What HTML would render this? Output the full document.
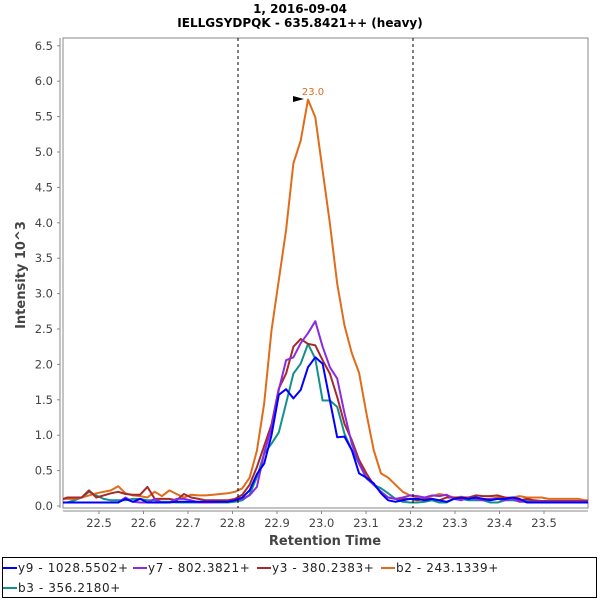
<!DOCTYPE html>
<html><head><meta charset="utf-8"><style>
body{margin:0;background:#fff;width:600px;height:600px;overflow:hidden;font-family:"DejaVu Sans","Liberation Sans",sans-serif}
svg{display:block}
</style></head><body>
<svg id="chart" width="600" height="600" xmlns="http://www.w3.org/2000/svg" font-family="DejaVu Sans, Liberation Sans, sans-serif">
<text x="300" y="13" text-anchor="middle" font-size="12" font-weight="bold" fill="#000">1, 2016-09-04</text>
<text x="300" y="27" text-anchor="middle" font-size="12" font-weight="bold" fill="#000">IELLGSYDPQK - 635.8421++ (heavy)</text>
<rect x="63" y="38" width="525" height="470" fill="#fff" stroke="#888" stroke-width="1"/>
<g id="axes"></g>
<g id="series" clip-path="url(#clip)"></g>
<defs><clipPath id="clip"><rect x="63" y="38" width="525" height="470"/></clipPath></defs>
<line x1="238" y1="38" x2="238" y2="508" stroke="#000" stroke-dasharray="3,3"/>
<line x1="413" y1="38" x2="413" y2="508" stroke="#000" stroke-dasharray="3,3"/>
<polygon points="293,96 304,99 293,102" fill="#000"/>
<text x="313" y="95" text-anchor="middle" font-size="10" fill="#e06c1a">23.0</text>
<text x="325" y="545" text-anchor="middle" font-size="13" font-weight="bold" fill="#444">Retention Time</text>
<text transform="translate(25,275) rotate(-90)" text-anchor="middle" font-size="13" font-weight="bold" fill="#444">Intensity 10^3</text>
<rect x="2.5" y="557.5" width="594" height="40" fill="#fff" stroke="#000"/>
<g id="legend"></g>
</svg>
<script>
const seriesNames=["y9 - 1028.5502+","y7 - 802.3821+","y3 - 380.2383+","b2 - 243.1339+","b3 - 356.2180+"];
const seriesColors=["#0000ff","#8a2be2","#a52a2a","#e06c1a","#14908c"];
const timeStart=22.412;
const timeStep=0.0164;
const y9=[0.05,0.05,0.05,0.05,0.05,0.05,0.05,0.05,0.05,0.1,0.06,0.1,0.05,0.05,0.05,0.05,0.06,0.06,0.06,0.06,0.06,0.06,0.06,0.06,0.08,0.12,0.22,0.45,0.6,1.0,1.57,1.65,1.52,1.64,1.96,2.10,2.01,1.49,0.97,0.98,0.79,0.46,0.4,0.32,0.18,0.08,0.06,0.08,0.1,0.1,0.08,0.1,0.08,0.06,0.1,0.12,0.1,0.12,0.1,0.08,0.1,0.1,0.12,0.1,0.05,0.05,0.05,0.05,0.05,0.05,0.05,0.05,0.05,0.05];
const y7=[0.05,0.05,0.05,0.05,0.05,0.05,0.05,0.05,0.05,0.12,0.06,0.05,0.05,0.1,0.05,0.05,0.1,0.1,0.08,0.05,0.05,0.05,0.06,0.06,0.08,0.1,0.15,0.27,0.75,1.1,1.64,2.06,2.1,2.3,2.44,2.61,2.25,1.96,1.8,1.31,0.88,0.6,0.4,0.3,0.2,0.12,0.1,0.12,0.15,0.14,0.12,0.15,0.14,0.16,0.1,0.08,0.12,0.1,0.08,0.1,0.1,0.08,0.1,0.06,0.06,0.06,0.06,0.06,0.06,0.06,0.06,0.06,0.06,0.06];
const y3=[0.08,0.12,0.12,0.12,0.22,0.12,0.15,0.18,0.2,0.17,0.16,0.16,0.27,0.1,0.1,0.1,0.08,0.17,0.12,0.1,0.08,0.08,0.08,0.08,0.1,0.16,0.3,0.55,0.85,1.15,1.66,1.87,2.25,2.36,2.29,2.27,2.06,1.87,1.54,1.16,0.93,0.65,0.46,0.3,0.2,0.12,0.1,0.1,0.1,0.08,0.1,0.1,0.08,0.12,0.12,0.1,0.12,0.15,0.14,0.14,0.15,0.12,0.1,0.08,0.1,0.08,0.07,0.07,0.07,0.07,0.07,0.07,0.07,0.07];
const b2=[0.1,0.1,0.1,0.12,0.15,0.18,0.2,0.22,0.28,0.18,0.15,0.14,0.12,0.2,0.14,0.22,0.17,0.12,0.16,0.15,0.15,0.16,0.17,0.18,0.2,0.25,0.4,0.78,1.45,2.48,3.19,3.9,4.84,5.16,5.74,5.49,4.74,3.99,3.14,2.55,2.16,1.88,1.31,0.79,0.46,0.4,0.3,0.2,0.15,0.12,0.1,0.14,0.17,0.15,0.12,0.13,0.12,0.12,0.1,0.1,0.12,0.12,0.12,0.14,0.12,0.12,0.12,0.1,0.1,0.1,0.1,0.1,0.08,0.08];
const b3=[0.05,0.05,0.08,0.12,0.2,0.15,0.1,0.08,0.08,0.08,0.1,0.1,0.08,0.08,0.06,0.06,0.05,0.05,0.05,0.05,0.05,0.05,0.05,0.05,0.06,0.08,0.16,0.41,0.74,0.88,1.04,1.45,1.87,2.01,2.29,2.08,1.49,1.49,1.4,1.02,0.79,0.6,0.39,0.3,0.25,0.18,0.1,0.06,0.05,0.05,0.06,0.08,0.05,0.05,0.1,0.1,0.08,0.08,0.08,0.05,0.05,0.08,0.08,0.07,0.07,0.07,0.07,0.07,0.07,0.07,0.07,0.07,0.07,0.07];
const seriesValues=[y9,y7,y3,b2,b3];
const xTicks=[22.5,22.6,22.7,22.8,22.9,23.0,23.1,23.2,23.3,23.4,23.5];
const yTicks=[0,0.5,1,1.5,2,2.5,3,3.5,4,4.5,5,5.5,6,6.5];

const NS="http://www.w3.org/2000/svg";
function xs(t){return 99+(t-22.5)*445;}
function ys(v){return 506-v*70.8;}
function mk(tag,attrs,parent){const e=document.createElementNS(NS,tag);for(const k in attrs)e.setAttribute(k,attrs[k]);parent.appendChild(e);return e;}
const axes=document.getElementById('axes');
const ya=mk('line',{x1:60,y1:38,x2:60,y2:508,stroke:'#888'},axes);


const xa=mk('line',{x1:63,y1:511,x2:588,y2:511,stroke:'#888'},axes);


yTicks.forEach(v=>{
  const y=ys(v);
  mk('line',{x1:57,y1:y,x2:60,y2:y,stroke:'#888'},axes);
  const t=mk('text',{x:53,y:y+4,'text-anchor':'end','font-size':'11.5',fill:'#444'},axes);
  t.textContent=v.toFixed(1);
  
  
});
xTicks.forEach(v=>{
  const x=xs(v);
  mk('line',{x1:x,y1:511,x2:x,y2:514,stroke:'#888'},axes);
  const t=mk('text',{x:x,y:527,'text-anchor':'middle','font-size':'11.5',fill:'#444'},axes);
  t.textContent=v.toFixed(1);
  
  
});
const sg=document.getElementById('series');
for(let s=seriesValues.length-1;s>=0;s--){
  const vals=seriesValues[s];
  const pts=vals.map((v,i)=>xs(timeStart+timeStep*i).toFixed(1)+','+ys(v).toFixed(1)).join(' ');
  const p=mk('polyline',{points:pts,fill:'none',stroke:seriesColors[s],'stroke-width':'2','stroke-linejoin':'round'},sg);
  
  
}
const lg=document.getElementById('legend');
const lpos=[[3,568],[133,568],[257,568],[381,568],[3,588]];
seriesNames.forEach((n,i)=>{
  const [x,y]=lpos[i];
  const g=mk('g',{},lg);
  
  
  mk('line',{x1:x,y1:y,x2:x+14,y2:y,stroke:seriesColors[i],'stroke-width':'2'},g);
  const t=mk('text',{x:x+15,y:y+4,'font-size':'12','letter-spacing':'0.6',fill:'#222'},g);
  t.textContent=n;
});
</script>
</body></html>
